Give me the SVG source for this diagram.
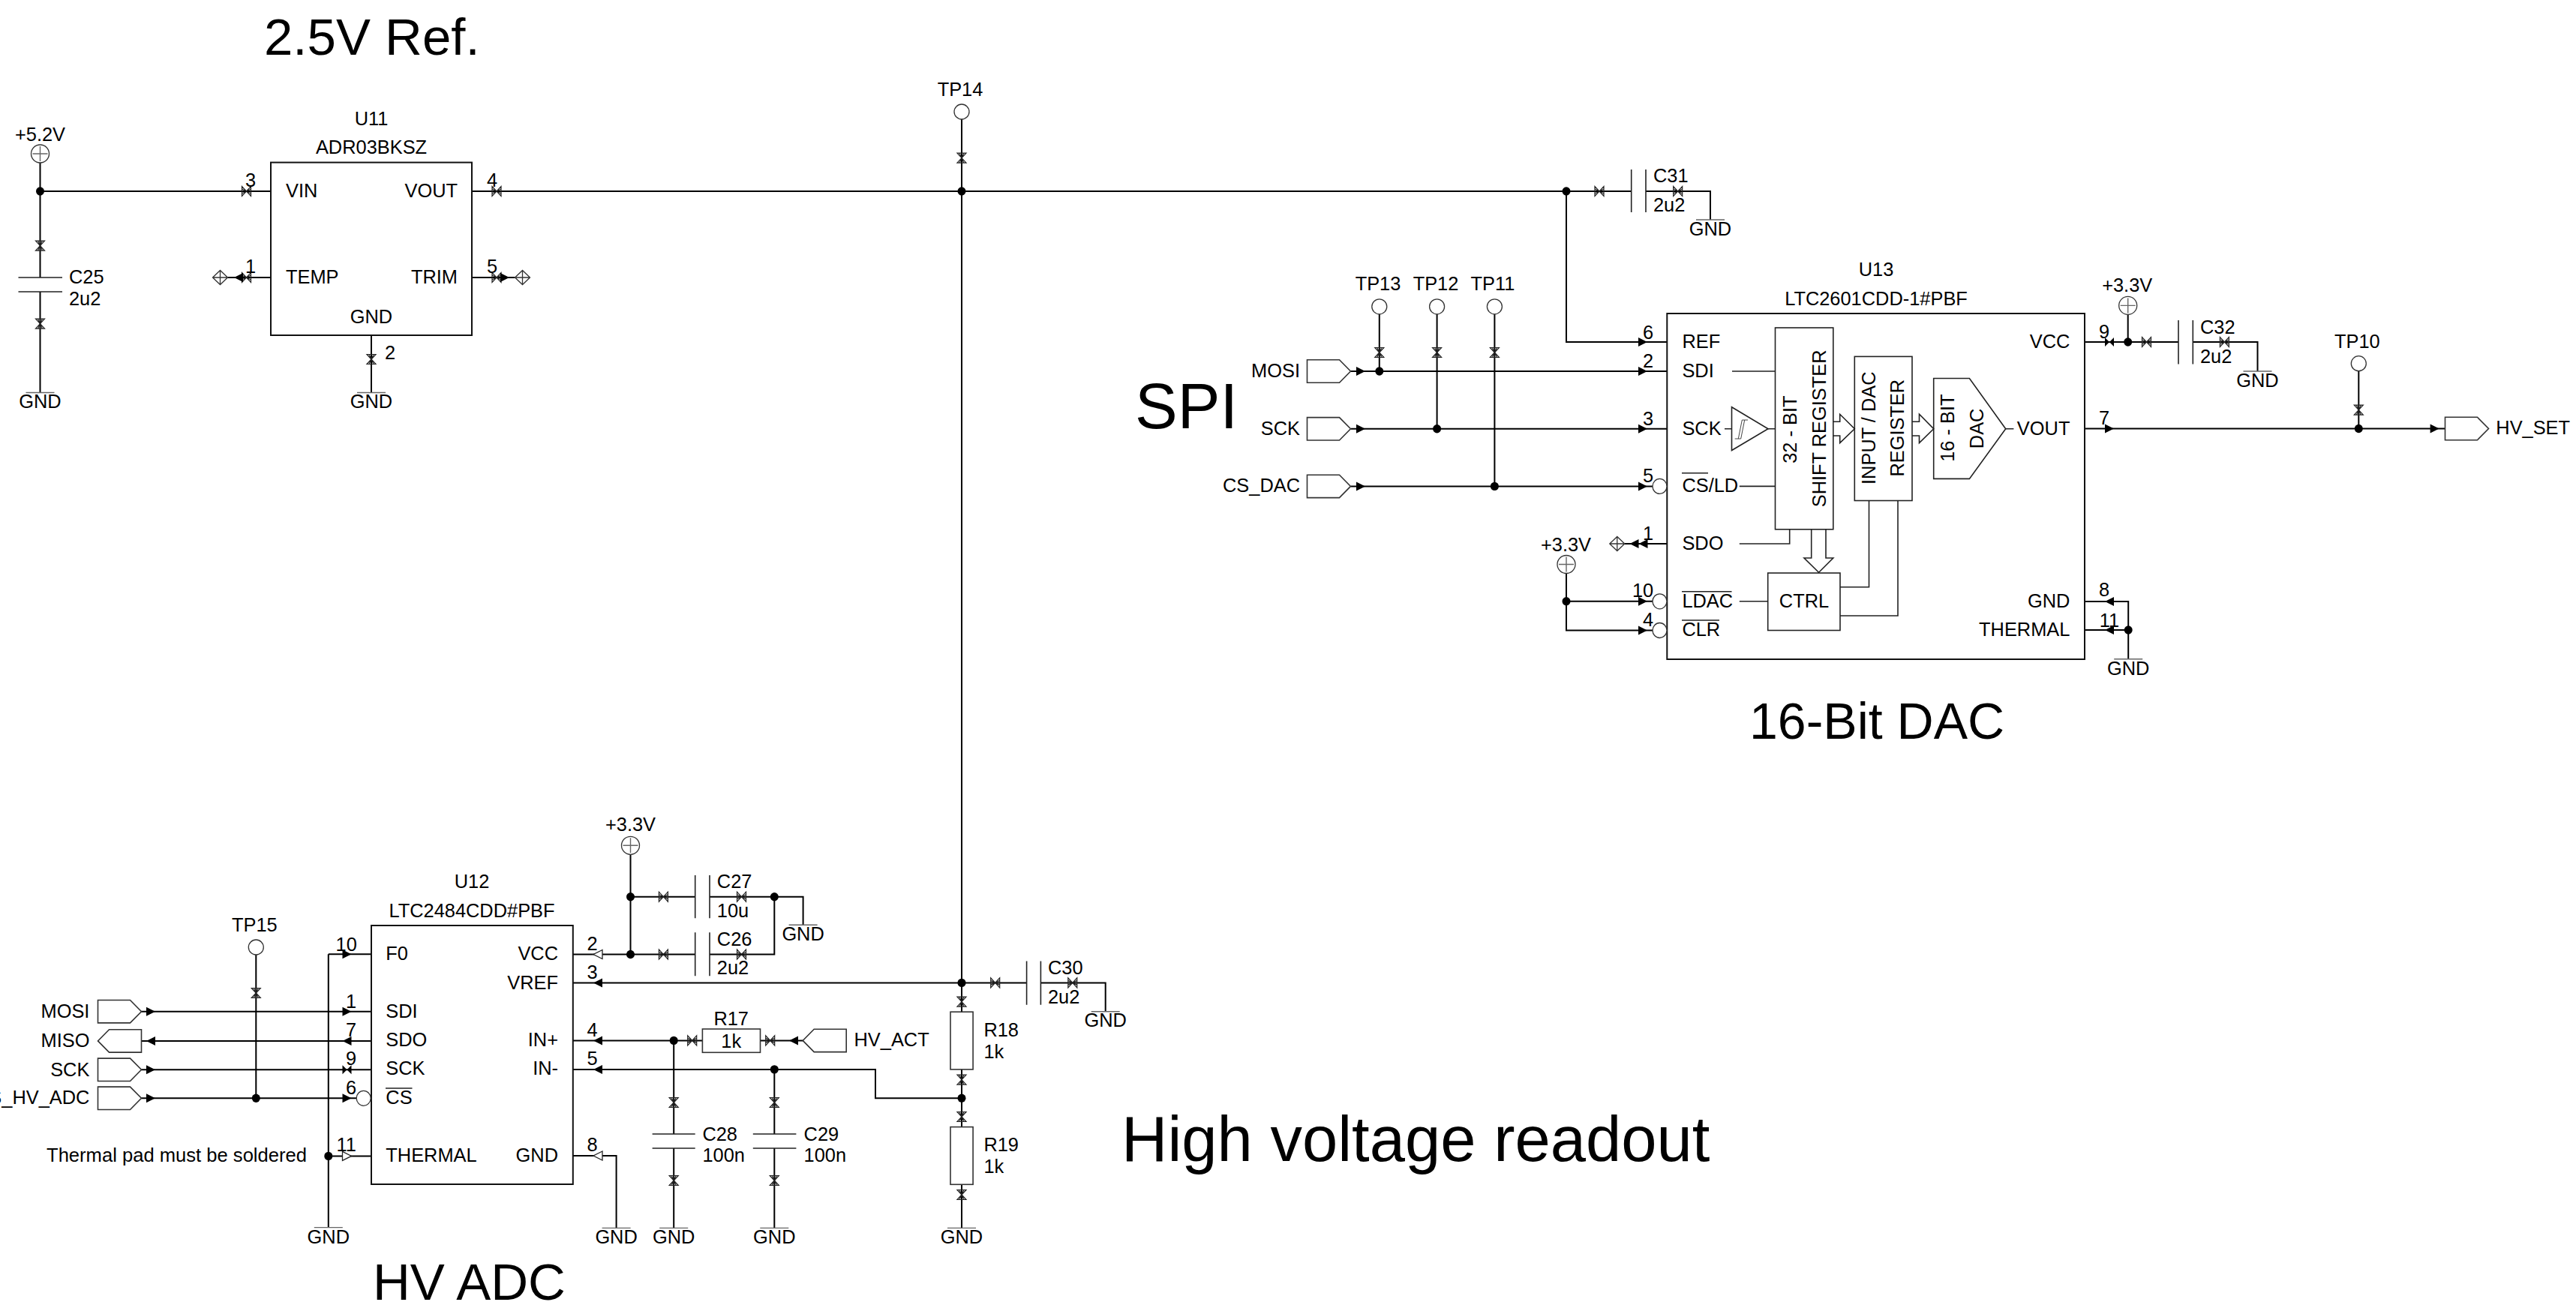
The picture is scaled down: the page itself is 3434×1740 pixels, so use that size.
<svg xmlns="http://www.w3.org/2000/svg" width="3434" height="1740" viewBox="0 0 3434 1740">
<style>
text{font-family:"Liberation Sans",Arial,Helvetica,sans-serif;font-size:25.4px;fill:#000}
.h68{font-size:68px}.h69{font-size:69px}.h85{font-size:85px}
.m{text-anchor:middle}.e{text-anchor:end}
.w{fill:none;stroke:#000;stroke-width:2}
.p{fill:none;stroke:#222;stroke-width:1.6}
.g{fill:none;stroke:#666;stroke-width:1.4}
.b{fill:#fff;stroke:#111;stroke-width:2}
.n{fill:#fff;stroke:#333;stroke-width:1.3}
.nn{fill:none;stroke:#333;stroke-width:1.3}
.f{fill:#fff;stroke:#333;stroke-width:1.6}
.fill{fill:#000;stroke:none}
.mk{fill:none;stroke:#222;stroke-width:1.2}
.sh{fill:none;stroke:#444;stroke-width:1}
</style>
<defs>
<path id="tv" class="mk" d="M-6 -6.5H6L-6 6.5H6ZM-3 -6.5L3 6.5M3 -6.5L-3 6.5"/>
<path id="th" class="mk" d="M-6 -6.5V6.5L6 -6.5V6.5ZM-6 -3L6 3M-6 3L6 -3"/>
<polygon id="ar" class="fill" points="-6,-6 6,0 -6,6"/>
<polygon id="al" class="fill" points="6,-6 -6,0 6,6"/>
<polygon id="hr" fill="#fff" stroke="#222" stroke-width="1.3" points="-6,-6 6,0 -6,6"/>
<polygon id="hl" fill="#fff" stroke="#222" stroke-width="1.3" points="6,-6 -6,0 6,6"/>
<path id="bow" class="fill" d="M-6 -6L0 0L-6 6ZM6 -6L0 0L6 6Z"/>
<ellipse id="j" class="fill" rx="5.5" ry="5.7"/>
<path id="dia" class="nn" d="M-10 0L0 -9.5L10 0L0 9.5ZM-10 0H10M0 -9.5V9.5"/>
<path id="gnd" class="g" d="M-19 0H19"/>
<g id="pwr"><circle class="n" r="12"/><path class="g" d="M-10 0H10M0 -10V10"/></g>
<circle id="tp" class="n" r="10"/>
<path id="flagr" class="f" d="M-29 -15.2H14L29 0L14 15.2H-29Z"/>
<path id="flagl" class="f" d="M29 -15.2H-14L-29 0L-14 15.2H29Z"/>
<ellipse id="bub" class="n" rx="9.5" ry="10"/>
</defs>

<g id="titles">
<text class="h69" x="352" y="73">2.5V Ref.</text>
<text class="h85" x="1513" y="571">SPI</text>
<text class="h68" x="2332" y="985">16-Bit DAC</text>
<text class="h85" x="1495" y="1548">High voltage readout</text>
<text class="h69" x="497" y="1733">HV ADC</text>
</g>

<g id="connectors">
<path class="w" d="M53.5 216.5V370M53.5 389V523.5M53.5 255H361M629 255H2174.7M2194 255H2280V293M1282 159V1349M1282 1426V1503M1282 1579V1637M2088 255V456H2222M303.5 370H361M629 370H686.5M495 447V523.5"/>
<path class="w" d="M1801 495H2222M1801 571.8H2222M1801 648.4H2203M1838.8 419V495M1915.6 419V571.8M1992.4 419V648.4M2166 725H2222M2088 764V840.5H2203M2088 801.8H2203"/>
<path class="w" d="M2780 456H2904M2923.3 456H3009.5V495M2836.7 419V456M2780 571.5H3259.5M3144.3 495V571.5M2780 802H2837.2V878.8M2780 840H2837.2"/>
<path class="w" d="M437.8 1272.3H495M437.8 1272.3V1636.6M437.8 1541.4H495M188.3 1348.7H495M188.3 1387.9H495M188.3 1426.3H495M188.3 1464.3H475M341.3 1273V1464.3"/>
<path class="w" d="M764 1272.5H926.7M840.5 1139V1272.5M840.5 1195.7H926.7M946 1195.7H1070.6V1233.3M946 1272.5H1032.3V1195.7M764 1310.4H1368.6M1387.4 1310.4H1473.7V1348.8M764 1387.4H936.4M1013.5 1387.4H1070.6M764 1425.9H1167V1464.2H1282M898.2 1387.4V1512M898.2 1531V1637.4M1032.3 1425.9V1512M1032.3 1531V1637.4M764 1541H821.6V1637.4"/>
<use href="#j" x="53.5" y="255"/><use href="#j" x="1282" y="255"/><use href="#j" x="2088" y="255"/>
<use href="#j" x="1838.8" y="495"/><use href="#j" x="1915.6" y="571.8"/><use href="#j" x="1992.4" y="648.4"/>
<use href="#j" x="2088" y="801.8"/><use href="#j" x="2836.7" y="456"/><use href="#j" x="3144.3" y="571.5"/><use href="#j" x="2837.2" y="840"/>
<use href="#j" x="341.3" y="1464.3"/><use href="#j" x="437.8" y="1541.4"/>
<use href="#j" x="840.5" y="1195.7"/><use href="#j" x="840.5" y="1272.5"/><use href="#j" x="1032.3" y="1195.7"/>
<use href="#j" x="1282" y="1310.4"/><use href="#j" x="1282" y="1464.2"/><use href="#j" x="898.2" y="1387.4"/><use href="#j" x="1032.3" y="1425.9"/>
<use href="#tv" x="53.5" y="327.6"/><use href="#tv" x="53.5" y="431.7"/><use href="#th" x="328.5" y="255"/><use href="#th" x="662" y="255"/>
<use href="#th" x="328.5" y="370"/><use href="#th" x="662" y="370"/><use href="#tv" x="495" y="479"/>
<use href="#tv" x="1282" y="210.7"/><use href="#th" x="2132" y="255"/><use href="#th" x="2236.7" y="255"/>
<use href="#tv" x="1838.8" y="470"/><use href="#tv" x="1915.6" y="470"/><use href="#tv" x="1992.4" y="470"/>
<use href="#th" x="2861.5" y="456"/><use href="#th" x="2965.4" y="456"/><use href="#tv" x="3144.3" y="546.7"/>
<use href="#tv" x="341.3" y="1324"/>
<use href="#th" x="884.4" y="1195.7"/><use href="#th" x="884.4" y="1272.5"/><use href="#th" x="988.5" y="1195.7"/><use href="#th" x="988.5" y="1272.5"/>
<use href="#th" x="1326.7" y="1310.4"/><use href="#th" x="1429.8" y="1310.4"/>
<use href="#tv" x="1282" y="1335.7"/><use href="#tv" x="1282" y="1439.7"/><use href="#tv" x="1282" y="1489"/><use href="#tv" x="1282" y="1593"/>
<use href="#th" x="922.7" y="1387.4"/><use href="#th" x="1026.7" y="1387.4"/>
<use href="#tv" x="898.2" y="1470"/><use href="#tv" x="898.2" y="1574"/><use href="#tv" x="1032.3" y="1470"/><use href="#tv" x="1032.3" y="1574"/>
<use href="#al" x="318" y="370"/><use href="#ar" x="673" y="370"/>
<use href="#ar" x="2190" y="456"/><use href="#ar" x="2190" y="495"/><use href="#ar" x="2190" y="571.8"/><use href="#ar" x="2190" y="648.4"/><use href="#ar" x="2190" y="801.8"/><use href="#ar" x="2190" y="840.5"/>
<use href="#ar" x="1814" y="495"/><use href="#ar" x="1814" y="571.8"/><use href="#ar" x="1814" y="648.4"/>
<use href="#al" x="2178.5" y="725"/><use href="#al" x="2190.5" y="725"/>
<use href="#bow" x="2812" y="456"/><use href="#ar" x="2812" y="571.5"/><use href="#ar" x="3245.6" y="571.5"/><use href="#al" x="2812" y="802"/><use href="#al" x="2812" y="840"/>
<use href="#ar" x="201" y="1348.7"/><use href="#al" x="201" y="1387.9"/><use href="#ar" x="201" y="1426.3"/><use href="#ar" x="201" y="1464.3"/>
<use href="#ar" x="462.5" y="1272.3"/><use href="#ar" x="462.5" y="1348.7"/><use href="#al" x="462.5" y="1387.9"/><use href="#bow" x="462.5" y="1426.3"/><use href="#ar" x="462.5" y="1464.3"/><use href="#hr" x="462.5" y="1541.4"/>
<use href="#hl" x="797" y="1272.5"/><use href="#al" x="797" y="1310.4"/><use href="#al" x="797" y="1387.4"/><use href="#al" x="797" y="1425.9"/><use href="#hl" x="797" y="1541"/>
<use href="#al" x="1058" y="1387.4"/>
<use href="#dia" x="293.5" y="370"/><use href="#dia" x="696.5" y="370"/><use href="#dia" x="2155.8" y="725"/>
</g>

<g id="U11">
<rect class="b" x="361" y="216.6" width="268" height="230.4"/>
<text class="m" x="495" y="167">U11</text><text class="m" x="495" y="205">ADR03BKSZ</text>
<text x="381" y="262.5">VIN</text><text class="e" x="610" y="262.5">VOUT</text><text x="381" y="378">TEMP</text><text class="e" x="610" y="378">TRIM</text><text class="m" x="495" y="430.5">GND</text>
<text class="m" x="334" y="248.5">3</text><text class="m" x="656" y="248.5">4</text><text class="m" x="334" y="364">1</text><text class="m" x="656" y="364">5</text><text class="m" x="520" y="479">2</text>
</g>
<g id="U13">
<rect class="b" x="2222.3" y="418" width="556.7" height="461"/>
<text class="m" x="2501" y="367.8">U13</text><text class="m" x="2501" y="407">LTC2601CDD-1#PBF</text>
<text x="2242.4" y="463.5">REF</text><text x="2242.4" y="502.5">SDI</text><text x="2242.4" y="579.5">SCK</text><text x="2242.4" y="656">CS/LD</text><text x="2242.4" y="732.5">SDO</text><text x="2242.4" y="810">LDAC</text><text x="2242.4" y="848">CLR</text>
<text class="e" x="2759.4" y="463.5">VCC</text><text class="e" x="2759.4" y="579.5">VOUT</text><text class="e" x="2759.4" y="810">GND</text><text class="e" x="2759.4" y="848">THERMAL</text>
<path class="p" d="M2242 630.7H2277M2242 788.8H2308.5M2242 827H2292"/>
<path class="p" d="M2309 495H2366.5M2299 571.8H2308.5M2357 571.8H2366.5M2318.8 648.4H2366.5M2318.8 725H2385.7V705.8M2318.8 801.8H2356.7M2453 782.7H2491.5V667.5M2453 821H2530V667.5M2673.7 571.8H2684.4"/>
<path class="p" d="M2308.5 542.7L2357 571.8L2308.5 600.5Z"/>
<path class="sh" d="M2312.7 585H2320.7L2325.7 560H2330M2317.3 585L2322.3 560H2325.7"/>
<rect class="p" x="2366.5" y="437" width="77.3" height="268.8"/>
<rect class="p" x="2472.3" y="475.4" width="76.7" height="192.1"/>
<rect class="p" x="2356.7" y="764" width="96.3" height="76.5"/>
<path class="p" d="M2577.7 504.5H2625.4L2673.7 571.8L2625.4 638.4H2577.7Z"/>
<path class="p" d="M2443.8 562.2H2452.7V552.3L2472.3 571.8L2452.7 590.6V581H2443.8"/>
<path class="p" d="M2549 562.2H2558.5V552.3L2577.7 571.8L2558.5 590.6V581H2549"/>
<path class="p" d="M2414.7 705.8V744H2405L2424.6 763.2L2443.8 744H2434V705.8"/>
<text class="m" transform="translate(2395 572.6) rotate(-90)">32 - BIT</text>
<text class="m" transform="translate(2433.5 571.4) rotate(-90)">SHIFT REGISTER</text>
<text class="m" transform="translate(2500 570.7) rotate(-90)">INPUT / DAC</text>
<text class="m" transform="translate(2538.4 570.7) rotate(-90)">REGISTER</text>
<text class="m" transform="translate(2605.4 570.7) rotate(-90)">16 - BIT</text>
<text class="m" transform="translate(2644 571.4) rotate(-90)">DAC</text>
<text class="m" x="2405" y="810">CTRL</text>
<use href="#bub" x="2212.5" y="648.4"/><use href="#bub" x="2212.5" y="801.8"/><use href="#bub" x="2212.5" y="840.5"/>
<text class="m" x="2197" y="452">6</text><text class="m" x="2197" y="490">2</text><text class="m" x="2197" y="567">3</text><text class="m" x="2197" y="643">5</text><text class="m" x="2197" y="720">1</text><text class="m" x="2190" y="796">10</text><text class="m" x="2197" y="835">4</text>
<text class="m" x="2805" y="451">9</text><text class="m" x="2805" y="565.8">7</text><text class="m" x="2805" y="795.4">8</text><text class="m" x="2812" y="835.6">11</text>
</g>
<g id="U12">
<rect class="b" x="495" y="1234" width="268.8" height="345"/>
<text class="m" x="629" y="1184">U12</text><text class="m" x="629" y="1222.6">LTC2484CDD#PBF</text>
<text x="514.3" y="1280">F0</text><text x="514.3" y="1357">SDI</text><text x="514.3" y="1394.6">SDO</text><text x="514.3" y="1433.4">SCK</text><text x="514.3" y="1471.8">CS</text><text x="514.3" y="1549">THERMAL</text>
<path class="p" d="M514 1451H549.5"/>
<text class="e" x="744" y="1280">VCC</text><text class="e" x="744" y="1318.6">VREF</text><text class="e" x="744" y="1394.6">IN+</text><text class="e" x="744" y="1433.4">IN-</text><text class="e" x="744" y="1549">GND</text>
<use href="#bub" x="484.7" y="1464.3"/>
<text class="m" x="461.7" y="1267.8">10</text><text class="m" x="468" y="1343.8">1</text><text class="m" x="468" y="1382">7</text><text class="m" x="468" y="1419.8">9</text><text class="m" x="468" y="1458.6">6</text><text class="m" x="461.7" y="1534.6">11</text>
<text class="m" x="789.5" y="1266.5">2</text><text class="m" x="789.5" y="1305.3">3</text><text class="m" x="789.5" y="1382.4">4</text><text class="m" x="789.5" y="1420">5</text><text class="m" x="789.5" y="1535.4">8</text>
<text x="62" y="1549" textLength="347" lengthAdjust="spacingAndGlyphs">Thermal pad must be soldered</text>
</g>

<g id="P52"><use href="#pwr" x="53.5" y="205"/><text class="m" x="53.5" y="187.5">+5.2V</text></g>
<g id="P33a"><use href="#pwr" x="2088" y="752.5"/><text class="m" x="2087.5" y="735">+3.3V</text></g>
<g id="P33b"><use href="#pwr" x="2836.7" y="407.4"/><text class="m" x="2835.7" y="388.6">+3.3V</text></g>
<g id="P33c"><use href="#pwr" x="840.5" y="1127.3"/><text class="m" x="840.5" y="1108.4">+3.3V</text></g>

<g id="C25"><path class="p" d="M24.5 370H83M24.5 389H83"/><text x="92" y="378">C25</text><text x="92" y="407">2u2</text></g>
<g id="C31"><path class="p" d="M2174.7 226V283M2194 226V283"/><text x="2204" y="243">C31</text><text x="2204" y="281.7">2u2</text></g>
<g id="C32"><path class="p" d="M2904 427V485.4M2923.3 427V485.4"/><text x="2933" y="445">C32</text><text x="2933" y="483.5">2u2</text></g>
<g id="C27"><path class="p" d="M926.7 1166.9V1224.2M946 1166.9V1224.2"/><text x="955.8" y="1183.5">C27</text><text x="955.8" y="1223">10u</text></g>
<g id="C26"><path class="p" d="M926.7 1243.2V1301.3M946 1243.2V1301.3"/><text x="955.8" y="1260.6">C26</text><text x="955.8" y="1299.3">2u2</text></g>
<g id="C30"><path class="p" d="M1368.6 1281.5V1339.7M1387.4 1281.5V1339.7"/><text x="1397" y="1299.3">C30</text><text x="1397" y="1338">2u2</text></g>
<g id="C28"><path class="p" d="M869.6 1512H926.7M869.6 1531H926.7"/><text x="936.4" y="1520.8">C28</text><text x="936.4" y="1549.2">100n</text></g>
<g id="C29"><path class="p" d="M1003.8 1512H1061.4M1003.8 1531H1061.4"/><text x="1071.6" y="1520.8">C29</text><text x="1071.6" y="1549.2">100n</text></g>
<g id="R17"><rect class="f" x="936.4" y="1372" width="77.1" height="31.3"/><text class="m" x="974.7" y="1367.4">R17</text><text class="m" x="974.7" y="1397">1k</text></g>
<g id="R18"><rect class="f" x="1267" y="1349.2" width="30.1" height="76.7"/><text x="1311.4" y="1382.4">R18</text><text x="1311.4" y="1410.8">1k</text></g>
<g id="R19"><rect class="f" x="1267" y="1502.6" width="30.1" height="76.7"/><text x="1311.4" y="1534.6">R19</text><text x="1311.4" y="1564.3">1k</text></g>

<g id="TP14"><use href="#tp" x="1282" y="149"/><text class="m" x="1280" y="127.7">TP14</text></g>
<g id="TP13"><use href="#tp" x="1838.8" y="408.8"/><text class="m" x="1837" y="387">TP13</text></g>
<g id="TP12"><use href="#tp" x="1915.6" y="408.8"/><text class="m" x="1914" y="387">TP12</text></g>
<g id="TP11"><use href="#tp" x="1992.4" y="408.8"/><text class="m" x="1990" y="387">TP11</text></g>
<g id="TP10"><use href="#tp" x="3144.3" y="484.7"/><text class="m" x="3142.4" y="464.4">TP10</text></g>
<g id="TP15"><use href="#tp" x="341.3" y="1263"/><text class="m" x="339.3" y="1242">TP15</text></g>

<g id="MOSI_DAC"><use href="#flagr" x="1771.5" y="495"/><text class="e" x="1733" y="503">MOSI</text></g>
<g id="SCK_DAC"><use href="#flagr" x="1771.5" y="571.8"/><text class="e" x="1733" y="579.5">SCK</text></g>
<g id="CS_DAC"><use href="#flagr" x="1771.5" y="648.4"/><text class="e" x="1733" y="656">CS_DAC</text></g>
<g id="HV_SET"><use href="#flagr" x="3288.5" y="571.5"/><text x="3327.3" y="579">HV_SET</text></g>
<g id="MOSI_ADC"><use href="#flagr" x="159.5" y="1348.7"/><text class="e" x="119.4" y="1357">MOSI</text></g>
<g id="MISO_ADC"><use href="#flagl" x="159.5" y="1387.9"/><text class="e" x="119.4" y="1396">MISO</text></g>
<g id="SCK_ADC"><use href="#flagr" x="159.5" y="1426.3"/><text class="e" x="119.4" y="1434.5">SCK</text></g>
<g id="CS_HV_ADC"><use href="#flagr" x="159.5" y="1464.3"/><text class="e" x="119.4" y="1472">CS_HV_ADC</text></g>
<g id="HV_ACT"><use href="#flagl" x="1099.2" y="1387.4"/><text x="1138.5" y="1395">HV_ACT</text></g>

<g id="GND1"><use href="#gnd" x="53.5" y="523.5"/><text class="m" x="53.5" y="544">GND</text></g>
<g id="GND2"><use href="#gnd" x="495" y="523.5"/><text class="m" x="495" y="544">GND</text></g>
<g id="GND3"><use href="#gnd" x="2280" y="293"/><text class="m" x="2280" y="314">GND</text></g>
<g id="GND4"><use href="#gnd" x="3009.5" y="495"/><text class="m" x="3009.5" y="516">GND</text></g>
<g id="GND5"><use href="#gnd" x="2837.2" y="878.8"/><text class="m" x="2837.2" y="899.5">GND</text></g>
<g id="GND6"><use href="#gnd" x="437.8" y="1636.6"/><text class="m" x="437.8" y="1657.5">GND</text></g>
<g id="GND7"><use href="#gnd" x="821.6" y="1637.4"/><text class="m" x="821.6" y="1658">GND</text></g>
<g id="GND8"><use href="#gnd" x="898.2" y="1637.4"/><text class="m" x="898.2" y="1658">GND</text></g>
<g id="GND9"><use href="#gnd" x="1032.3" y="1637.4"/><text class="m" x="1032.3" y="1658">GND</text></g>
<g id="GND10"><use href="#gnd" x="1282" y="1637.4"/><text class="m" x="1282" y="1658">GND</text></g>
<g id="GND11"><use href="#gnd" x="1070.6" y="1233.3"/><text class="m" x="1070.6" y="1254">GND</text></g>
<g id="GND12"><use href="#gnd" x="1473.7" y="1348.8"/><text class="m" x="1473.7" y="1369.3">GND</text></g>
</svg>
